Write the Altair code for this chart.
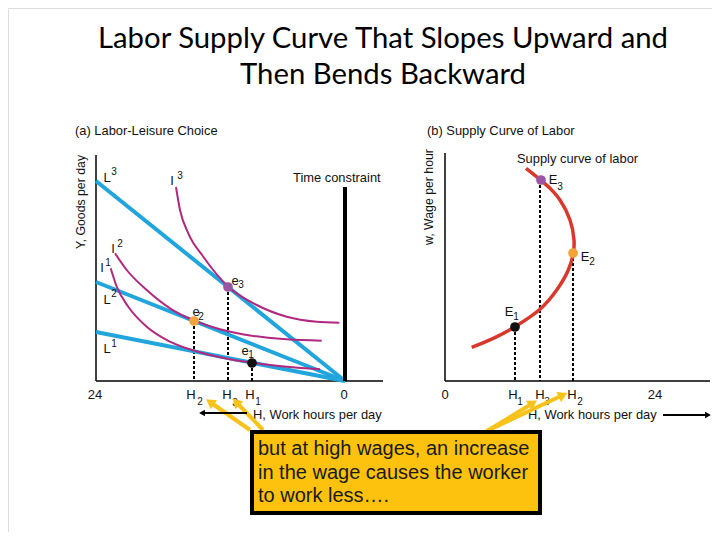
import math
import altair as alt
import pandas as pd

# ---------------- data (diagram coordinates, y grows downward) ----------------
TITLE_LINES = ["Labor Supply Curve That Slopes Upward and", "Then Bends Backward"]
TITLE_Y = [48, 84]

# axes: (x, y) -> (x2, y2)
AXIS_X = [96, 96, 445, 445]
AXIS_Y = [155, 381, 153, 381]
AXIS_X2 = [96, 383, 445, 710]
AXIS_Y2 = [381, 381, 381, 381]

# panel (a): budget lines L1..L3 pivot on the time constraint (0 work hours)
BUDGET_LEFT_Y = [332, 282, 181]
BUDGET_LEFT_X = 96
PIVOT = (345, 381)
TIME_CONSTRAINT_TOP = 187

# indifference curves
I1_X = [110.7, 116.7, 128.3, 146.7, 170, 203.3, 230, 252.3, 286.7, 320]
I1_Y = [268.3, 286.7, 306.7, 326.7, 341.7, 353.3, 359.3, 362.7, 366.7, 369.3]
I2_X = [115, 126.7, 146.7, 170, 194.3, 220, 253.3, 286.7, 321.7]
I2_Y = [253.3, 270, 290, 308.3, 320.7, 329.3, 336, 339.3, 340.7]
I3_X = [176, 180, 188.3, 203.3, 228.3, 256.7, 286.7, 316.7, 339.3]
I3_Y = [187, 210, 233.3, 256.7, 286.7, 305, 316.7, 321.7, 322.7]

# panel (b): backward-bending supply curve
S_X = [471.7, 493.3, 515, 540, 556.7, 568.3, 573.3, 574, 570, 560, 550, 540.7, 526]
S_Y = [347.3, 338.3, 326.7, 309.3, 290, 270, 253.3, 240, 220, 200, 188.3, 180, 168.3]

# equilibrium points
PT_X = [252, 194, 228, 515, 573, 541]
PT_Y = [363, 321, 287, 327, 253, 180]
PT_C = ["#111111", "#f2a33a", "#9b55a3", "#111111", "#f2a33a", "#9b55a3"]

# dashed drop lines
DROP_X = [194, 228, 252, 515, 540, 573]
DROP_TOP = [321, 287, 363, 327, 180, 253]
DROP_BOTTOM = 381

# labels: main letters and their super/subscripts
MAIN_T = ["L", "L", "L", "I", "I", "I", "e", "e", "e",
          "24", "H", "H", "H", "0", "E", "E", "E", "0", "H", "H", "H", "24"]
MAIN_X = [107, 107, 107, 172, 113, 102, 235, 196, 245,
          95, 191, 227, 250, 344, 553, 585, 509, 445, 513, 540, 572, 655]
MAIN_Y = [178, 300, 349, 181, 249, 268, 281, 312, 351,
          395, 395, 395, 395, 395, 180, 257, 312, 395, 395, 395, 395, 395]
SCR_T = ["3", "2", "1", "3", "2", "1", "3", "2", "1",
         "2", "3", "1", "3", "2", "1", "1", "3", "2"]
SCR_X = [114, 114, 114, 180, 120, 108, 241, 201, 251,
         200, 235, 258, 560, 592, 516, 520, 547, 580]
SCR_Y = [172, 294, 344, 176, 244, 263, 285, 317, 355,
         402, 403, 402, 187, 262, 317, 402, 402, 402]

LEFT_T = ["(a) Labor-Leisure Choice", "(b) Supply Curve of Labor", "Time constraint",
          "Supply curve of labor", "H, Work hours per day", "H, Work hours per day"]
LEFT_X = [75, 427, 293, 517, 253, 528]
LEFT_Y = [131, 131, 178, 159, 415, 415]

VERT_T = ["Y, Goods per day", "w, Wage per hour"]
VERT_X = [81, 429]
VERT_Y = [202, 197]

# callout
BOX = (252, 432, 540, 513)
CALLOUT_LINES = ["but at high wages, an increase", "in the wage causes the worker", "to work less…."]
CALLOUT_X = 258
CALLOUT_Y = [455, 479, 502]

# arrows: tail -> tip
YA_X = [250, 263, 487, 487]
YA_Y = [430, 430, 431, 431]
YA_X2 = [210, 236, 533, 563]
YA_Y2 = [402, 402, 403, 395]
BA_X = [247, 663]
BA_Y = [413, 415]
BA_X2 = [202, 708]
BA_Y2 = [413, 415]

# ---------------- styling ----------------
FONT = "Liberation Sans"
BLUE = "#22a5dc"
MAGENTA = "#b0287f"
RED = "#d8392b"
GOLD = "#f7c31a"

xs = alt.Scale(domain=[8, 712], nice=False, zero=False)
ys = alt.Scale(domain=[8, 532], nice=False, zero=False, reverse=True)


def X(f="x"):
    return alt.X(f"{f}:Q", scale=xs, axis=None)


def Y(f="y"):
    return alt.Y(f"{f}:Q", scale=ys, axis=None)


def seg_df(x, y, x2, y2):
    return pd.DataFrame({"x": x, "y": y, "x2": x2, "y2": y2})


def rules(df, **kw):
    return alt.Chart(df).mark_rule(**kw).encode(x=X(), y=Y(), x2="x2:Q", y2="y2:Q")


layers = []

# axes
layers.append(rules(seg_df(AXIS_X, AXIS_Y, AXIS_X2, AXIS_Y2), color="black", strokeWidth=1.5))

# dashed drop lines
layers.append(rules(seg_df(DROP_X, DROP_TOP, DROP_X, [DROP_BOTTOM] * len(DROP_X)),
                    color="black", strokeWidth=2, strokeDash=[3, 2]))

# budget lines
n = len(BUDGET_LEFT_Y)
layers.append(rules(seg_df([BUDGET_LEFT_X] * n, BUDGET_LEFT_Y, [PIVOT[0]] * n, [PIVOT[1]] * n),
                    color=BLUE, strokeWidth=4))

# time constraint
layers.append(rules(seg_df([PIVOT[0]], [TIME_CONSTRAINT_TOP], [PIVOT[0]], [PIVOT[1]]),
                    color="black", strokeWidth=4))

# indifference curves
ic = pd.concat([
    pd.DataFrame({"x": I1_X, "y": I1_Y, "c": "I1"}),
    pd.DataFrame({"x": I2_X, "y": I2_Y, "c": "I2"}),
    pd.DataFrame({"x": I3_X, "y": I3_Y, "c": "I3"}),
])
layers.append(alt.Chart(ic).mark_line(color=MAGENTA, strokeWidth=2, interpolate="monotone").encode(
    x=X(), y=Y(), detail="c:N"))

# supply curve
sdf = pd.DataFrame({"x": S_X, "y": S_Y, "o": list(range(len(S_X)))})
layers.append(alt.Chart(sdf).mark_line(color=RED, strokeWidth=3.5, interpolate="catmull-rom").encode(
    x=X(), y=Y(), order="o:Q"))

# points
pdf = pd.DataFrame({"x": PT_X, "y": PT_Y, "c": PT_C})
layers.append(alt.Chart(pdf).mark_circle(size=95, opacity=1).encode(
    x=X(), y=Y(), color=alt.Color("c:N", scale=None)))

# main letters
mdf = pd.DataFrame({"x": MAIN_X, "y": MAIN_Y, "t": MAIN_T})
layers.append(alt.Chart(mdf).mark_text(font=FONT, fontSize=13, align="center", baseline="middle",
                                       color="#111111").encode(x=X(), y=Y(), text="t:N"))
sdf2 = pd.DataFrame({"x": SCR_X, "y": SCR_Y, "t": SCR_T})
layers.append(alt.Chart(sdf2).mark_text(font=FONT, fontSize=10, align="center", baseline="middle",
                                        color="#111111").encode(x=X(), y=Y(), text="t:N"))

# left aligned texts
ldf = pd.DataFrame({"x": LEFT_X, "y": LEFT_Y, "t": LEFT_T})
layers.append(alt.Chart(ldf).mark_text(font=FONT, fontSize=12.9, align="left", baseline="middle",
                                       color="#111111").encode(x=X(), y=Y(), text="t:N"))

# rotated axis titles
vdf = pd.DataFrame({"x": VERT_X, "y": VERT_Y, "t": VERT_T})
layers.append(alt.Chart(vdf).mark_text(font=FONT, fontSize=12.3, align="center", baseline="middle",
                                       angle=270, color="#111111").encode(
    x=X(), y=Y(), text="t:N"))

# title
tdf = pd.DataFrame({"x": [383, 383], "y": TITLE_Y, "t": TITLE_LINES})
layers.append(alt.Chart(tdf).mark_text(font="Lato", fontSize=29.3, align="center", baseline="alphabetic",
                                       color="black").encode(x=X(), y=Y(), text="t:N"))


# arrows
def arrow_heads(x, y, x2, y2):
    ang = [(math.degrees(math.atan2(b - a, -(d - c)))) % 360 for a, b, c, d in zip(x, x2, y, y2)]
    return pd.DataFrame({"x": x2, "y": y2, "a": ang})


layers.append(rules(seg_df(YA_X, YA_Y, YA_X2, YA_Y2), color=GOLD, strokeWidth=4))
layers.append(alt.Chart(arrow_heads(YA_X, YA_Y, YA_X2, YA_Y2)).mark_point(
    shape="triangle-up", filled=True, size=120, color=GOLD, opacity=1).encode(
    x=X(), y=Y(), angle=alt.Angle("a:Q", scale=None)))
layers.append(rules(seg_df(BA_X, BA_Y, BA_X2, BA_Y2), color="black", strokeWidth=2))
layers.append(alt.Chart(arrow_heads(BA_X, BA_Y, BA_X2, BA_Y2)).mark_point(
    shape="triangle-up", filled=True, size=45, color="black", opacity=1).encode(
    x=X(), y=Y(), angle=alt.Angle("a:Q", scale=None)))

# callout box
bdf = pd.DataFrame({"x": [BOX[0]], "y": [BOX[1]], "x2": [BOX[2]], "y2": [BOX[3]]})
layers.append(alt.Chart(bdf).mark_rect(fill="#fcc20e", stroke="black", strokeWidth=4).encode(
    x=X(), y=Y(), x2="x2:Q", y2="y2:Q"))
cdf = pd.DataFrame({"x": [CALLOUT_X] * 3, "y": CALLOUT_Y, "t": CALLOUT_LINES})
layers.append(alt.Chart(cdf).mark_text(font=FONT, fontSize=20, align="left", baseline="alphabetic",
                                       color="#1a1a1a").encode(x=X(), y=Y(), text="t:N"))

chart = alt.layer(*layers).properties(
    width=704, height=524, padding=0, autosize=alt.AutoSizeParams(type="none")
).configure_view(stroke=None).configure(background="white")

chart.save("out.html", embed_options={"renderer": "svg", "actions": False})
